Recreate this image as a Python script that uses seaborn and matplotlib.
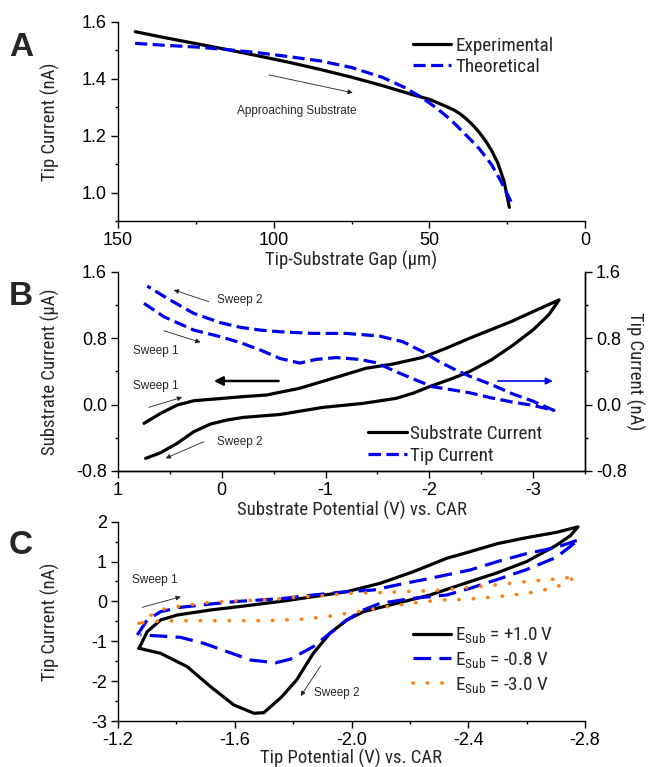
import numpy as np
import pandas as pd
import matplotlib
matplotlib.use('Agg')
import matplotlib.pyplot as plt
import seaborn as sns
from matplotlib import font_manager
from matplotlib.ticker import MultipleLocator, FormatStrFormatter

# ---------------- Panel A data ----------------
gap_exp = [144.5, 135, 125, 115, 105, 95, 85, 75, 65, 55, 50, 45, 42, 40, 38, 36, 34, 32, 30, 28, 26, 24.3]
cur_exp = [1.566, 1.545, 1.524, 1.503, 1.481, 1.458, 1.433, 1.406, 1.376, 1.343, 1.328, 1.305,
           1.290, 1.276, 1.258, 1.237, 1.212, 1.183, 1.148, 1.104, 1.040, 0.948]
gap_theo = [144.5, 135, 125, 115, 105, 95, 85, 75, 65, 58, 53, 48, 43, 38, 34, 30, 27, 25, 23.5]
cur_theo = [1.525, 1.518, 1.512, 1.503, 1.492, 1.478, 1.463, 1.44, 1.405, 1.37, 1.338, 1.30,
            1.255, 1.20, 1.155, 1.098, 1.04, 0.995, 0.962]

# ---------------- Panel B data ----------------
esub_s = [0.75, 0.589, 0.43, 0.27, 0.019, -0.2, -0.43, -0.75, -1.07, -1.39, -1.65, -1.936, -2.16,
          -2.385, -2.6, -2.8, -3.0, -3.25,
          -3.15, -3.0, -2.8, -2.6, -2.385, -2.224, -2.0, -1.84, -1.68, -1.359, -0.974, -0.558,
          -0.21, -0.05, 0.11, 0.27, 0.43, 0.589, 0.734]
isub = [-0.226, -0.106, -0.006, 0.046, 0.072, 0.095, 0.115, 0.196, 0.316, 0.437, 0.488, 0.568, 0.677,
        0.797, 0.905, 1.005, 1.12, 1.26,
        1.08, 0.90, 0.71, 0.54, 0.396, 0.315, 0.215, 0.135, 0.075, 0.014, -0.034, -0.12,
        -0.154, -0.186, -0.235, -0.327, -0.467, -0.58, -0.648]
esub_t = [0.75, 0.558, 0.27, 0.013, -0.18, -0.372, -0.558, -0.75, -0.91, -1.103, -1.327, -1.487,
          -1.68, -1.872, -2.032, -2.192, -2.385, -2.6, -2.8, -3.0, -3.2,
          -3.0, -2.8, -2.6, -2.385, -2.256, -2.096, -1.936, -1.744, -1.519, -1.199, -0.878,
          -0.558, -0.372, -0.18, 0.013, 0.27, 0.526, 0.718]
itip_b = [1.219, 1.058, 0.897, 0.817, 0.745, 0.657, 0.556, 0.500, 0.544, 0.566, 0.544, 0.504,
          0.396, 0.295, 0.215, 0.183, 0.143, 0.08, 0.03, -0.01, -0.07,
          0.04, 0.13, 0.24, 0.343, 0.416, 0.516, 0.637, 0.757, 0.825, 0.857, 0.857,
          0.877, 0.897, 0.93, 0.986, 1.098, 1.279, 1.427]

# ---------------- Panel C data ----------------
etip_p10 = [-1.272, -1.300, -1.346, -1.403, -1.517, -1.632, -1.769, -1.869, -1.984, -2.098, -2.212,
            -2.326, -2.406, -2.5, -2.6, -2.7, -2.776,
            -2.75, -2.7, -2.6, -2.5, -2.406, -2.269, -2.155, -2.041, -1.984, -1.926, -1.869,
            -1.812, -1.76, -1.70, -1.666, -1.597, -1.517, -1.437, -1.346, -1.272]
itip_p10 = [-1.176, -0.759, -0.466, -0.341, -0.215, -0.115, 0.011, 0.119, 0.245, 0.454, 0.746,
            1.081, 1.248, 1.45, 1.60, 1.73, 1.87,
            1.65, 1.40, 1.0, 0.72, 0.496, 0.161, -0.048, -0.257, -0.466, -0.801, -1.302,
            -1.971, -2.40, -2.79, -2.807, -2.598, -2.138, -1.637, -1.302, -1.176]
etip_m08 = [-1.266, -1.300, -1.346, -1.414, -1.517, -1.609, -1.689, -1.769, -1.869, -1.984, -2.075,
            -2.155, -2.269, -2.406, -2.5, -2.6, -2.7, -2.78,
            -2.7, -2.6, -2.5, -2.406, -2.326, -2.212, -2.098, -2.041, -1.984, -1.926, -1.869,
            -1.79, -1.74, -1.654, -1.574, -1.494, -1.414, -1.346, -1.277]
itip_m08 = [-0.843, -0.466, -0.257, -0.148, -0.065, 0.0, 0.036, 0.077, 0.161, 0.245, 0.286,
            0.412, 0.579, 0.788, 1.0, 1.2, 1.35, 1.55,
            1.1, 0.8, 0.55, 0.328, 0.161, 0.077, -0.048, -0.215, -0.466, -0.80, -1.135,
            -1.45, -1.54, -1.47, -1.26, -1.052, -0.901, -0.868, -0.843]
etip_m30 = [-1.272, -1.318, -1.364, -1.414, -1.506, -1.597, -1.689, -1.746, -1.795, -1.892, -1.989,
            -2.086, -2.178, -2.275, -2.372, -2.5, -2.6, -2.7, -2.77,
            -2.7, -2.6, -2.5, -2.395, -2.304, -2.201, -2.109, -2.018, -1.915, -1.823, -1.7,
            -1.55, -1.45, -1.35, -1.30, -1.272]
itip_m30 = [-0.55, -0.324, -0.173, -0.115, -0.031, 0.011, 0.036, 0.061, 0.102, 0.136, 0.203,
            0.22, 0.245, 0.27, 0.328, 0.42, 0.5, 0.56, 0.62,
            0.35, 0.2, 0.12, 0.052, 0.036, -0.048, -0.148, -0.257, -0.383, -0.45, -0.483,
            -0.483, -0.483, -0.49, -0.52, -0.55]

legend_a = ['Experimental', 'Theoretical']
legend_b = ['Substrate Current', 'Tip Current']
legend_c = [r'E$_{\mathrm{Sub}}$ = +1.0 V', r'E$_{\mathrm{Sub}}$ = -0.8 V', r'E$_{\mathrm{Sub}}$ = -3.0 V']

# ---------------- style ----------------
sns.set_style('ticks')
names = {f.name for f in font_manager.fontManager.ttflist}
REG = 'Liberation Sans' if 'Liberation Sans' in names else 'DejaVu Sans'
NAR = REG
for cand in ['Liberation Sans Narrow', 'Arial Narrow', 'Roboto Condensed', 'Open Sans Condensed',
             'DejaVu Sans Condensed', 'Noto Sans Condensed']:
    if cand in names:
        NAR = cand
        break
narrow_found = NAR != REG
plt.rcParams['font.family'] = [REG, 'DejaVu Sans']
plt.rcParams['axes.unicode_minus'] = False
plt.rcParams['mathtext.fontset'] = 'custom'
plt.rcParams['mathtext.rm'] = NAR
plt.rcParams['mathtext.it'] = NAR
plt.rcParams['mathtext.bf'] = NAR

BLUE = '#0000F0'
ORANGE = '#FF8010'
LW = 2.3
LABEL_FS = 13.5 if narrow_found else 12
TICK_FS = 13
LEG_FS = 13.8 if narrow_found else 12.5
SMALL_FS = 8.5

fig = plt.figure(figsize=(6.5, 7.67), dpi=100)
L, W = 118 / 650, 467 / 650
axA = fig.add_axes([L, 1 - 221 / 767, W, 199 / 767])
axB = fig.add_axes([L, 1 - 471 / 767, W, 199.3 / 767])
axC = fig.add_axes([L, 1 - 721 / 767, W, 199.3 / 767])


def style_ax(ax, right=False):
    ax.set_facecolor('none')
    ax.spines['top'].set_visible(False)
    ax.spines['right'].set_visible(right)
    for s in ax.spines.values():
        s.set_linewidth(1.0)
        s.set_color('black')
    ax.tick_params(which='major', direction='out', length=5, width=1.0, labelsize=TICK_FS,
                   colors='black', pad=3)
    ax.tick_params(which='minor', direction='out', length=2.5, width=1.0, colors='black')
    ax.grid(False)


def draw(ax, x, y, **kw):
    df = pd.DataFrame({'x': x, 'y': y})
    sns.lineplot(data=df, x='x', y='y', sort=False, estimator=None, ax=ax, legend=False, **kw)
    return ax.lines[-1]


def small_arrow(ax, start, end):
    ax.annotate('', xy=end, xytext=start,
                arrowprops=dict(arrowstyle='-|>', lw=0.6, color='#222222', mutation_scale=7,
                                shrinkA=0, shrinkB=0))


LEG_KW = dict(frameon=False, borderpad=0, borderaxespad=0, handlelength=2.0, handletextpad=0.2,
              prop={'family': NAR, 'size': LEG_FS})

# ---------------- Panel A ----------------
style_ax(axA)
la1 = draw(axA, gap_exp, cur_exp, color='black', lw=LW)
la2 = draw(axA, gap_theo, cur_theo, color=BLUE, lw=LW)
la2.set_dashes((3.8, 1.7))
axA.set_xlim(150, 0)
axA.set_ylim(0.9, 1.6)
axA.xaxis.set_major_locator(MultipleLocator(50))
axA.xaxis.set_minor_locator(MultipleLocator(25))
axA.yaxis.set_major_locator(MultipleLocator(0.2))
axA.yaxis.set_minor_locator(MultipleLocator(0.1))
axA.yaxis.set_major_formatter(FormatStrFormatter('%.1f'))
axA.set_xlabel('Tip-Substrate Gap (µm)', fontsize=LABEL_FS, family=NAR)
axA.set_ylabel('Tip Current (nA)', fontsize=LABEL_FS, family=NAR)
small_arrow(axA, (101.5, 1.414), (74.6, 1.351))
axA.text(92.6, 1.288, 'Approaching Substrate', fontsize=SMALL_FS, ha='center', va='center')
axA.legend([la1, la2], legend_a, loc='upper left', bbox_to_anchor=(0.632, 0.925),
           labelspacing=0.15, **LEG_KW)

# ---------------- Panel B ----------------
style_ax(axB, right=True)
axB2 = axB.twinx()
style_ax(axB2, right=True)
axB2.spines['left'].set_visible(False)
lb1 = draw(axB, esub_s, isub, color='black', lw=LW)
lb2 = draw(axB2, esub_t, itip_b, color=BLUE, lw=LW)
lb2.set_dashes((3.9, 1.7))
for ax in (axB, axB2):
    ax.set_ylim(-0.8, 1.6)
    ax.yaxis.set_major_locator(MultipleLocator(0.8))
    ax.yaxis.set_minor_locator(MultipleLocator(0.4))
    ax.yaxis.set_major_formatter(FormatStrFormatter('%.1f'))
axB.set_xlim(1, -3.5)
axB.xaxis.set_major_locator(MultipleLocator(1))
axB.xaxis.set_minor_locator(MultipleLocator(0.5))
axB.xaxis.set_major_formatter(FormatStrFormatter('%d'))
axB.set_xlabel('Substrate Potential (V) vs. CAR', fontsize=LABEL_FS, family=NAR)
axB.set_ylabel('Substrate Current (µA)', fontsize=LABEL_FS, family=NAR)
axB2.set_ylabel('Tip Current (nA)', fontsize=LABEL_FS, family=NAR, rotation=270, labelpad=16)
axB2.set_xlabel('')

axB.annotate('', xy=(0.077, 0.284), xytext=(-0.548, 0.284),
             arrowprops=dict(arrowstyle='-|>', lw=1.8, color='black', mutation_scale=13,
                             shrinkA=0, shrinkB=0))
axB2.annotate('', xy=(-3.19, 0.284), xytext=(-2.66, 0.284),
              arrowprops=dict(arrowstyle='-|>', lw=1.2, color=BLUE, mutation_scale=10,
                              shrinkA=0, shrinkB=0))
small_arrow(axB, (0.125, 1.239), (0.462, 1.380))
axB.text(-0.173, 1.259, 'Sweep 2', fontsize=SMALL_FS, ha='center', va='center')
small_arrow(axB, (0.558, 0.889), (0.205, 0.75))
axB.text(0.639, 0.645, 'Sweep 1', fontsize=SMALL_FS, ha='center', va='center')
axB.text(0.639, 0.227, 'Sweep 1', fontsize=SMALL_FS, ha='center', va='center')
small_arrow(axB, (0.702, -0.033), (0.382, 0.088))
axB.text(-0.173, -0.447, 'Sweep 2', fontsize=SMALL_FS, ha='center', va='center')
small_arrow(axB, (0.173, -0.447), (0.541, -0.647))
axB2.legend([lb1, lb2], legend_b, loc='upper left', bbox_to_anchor=(0.536, 0.23),
            labelspacing=0.2, **LEG_KW)

# ---------------- Panel C ----------------
style_ax(axC)
lc1 = draw(axC, etip_p10, itip_p10, color='black', lw=LW)
lc2 = draw(axC, etip_m08, itip_m08, color=BLUE, lw=LW)
lc2.set_dashes((5.5, 2.6))
lc3 = draw(axC, etip_m30, itip_m30, color=ORANGE, lw=2.6)
lc3.set_dashes((0.1, 3.9))
lc3.set_dash_capstyle('round')
axC.set_xlim(-1.2, -2.8)
axC.set_ylim(-3, 2)
axC.xaxis.set_major_locator(MultipleLocator(0.4))
axC.xaxis.set_minor_locator(MultipleLocator(0.2))
axC.xaxis.set_major_formatter(FormatStrFormatter('%.1f'))
axC.yaxis.set_major_locator(MultipleLocator(1))
axC.yaxis.set_minor_locator(MultipleLocator(0.5))
axC.yaxis.set_major_formatter(FormatStrFormatter('%d'))
axC.set_xlabel('Tip Potential (V) vs. CAR', fontsize=LABEL_FS, family=NAR)
axC.set_ylabel('Tip Current (nA)', fontsize=LABEL_FS, family=NAR)
axC.text(-1.327, 0.537, 'Sweep 1', fontsize=SMALL_FS, ha='center', va='center')
small_arrow(axC, (-1.283, -0.148), (-1.415, 0.118))
axC.text(-1.950, -2.29, 'Sweep 2', fontsize=SMALL_FS, ha='center', va='center')
small_arrow(axC, (-1.894, -1.62), (-1.826, -2.373))
axC.legend([lc1, lc2, lc3], legend_c, loc='upper left', bbox_to_anchor=(0.632, 0.48),
           labelspacing=0.25, **LEG_KW)

# label positions
for ax in (axA, axB, axC):
    ax.yaxis.set_label_coords(-0.125, 0.5)
axA.xaxis.set_label_coords(0.5, -0.15)
axB.xaxis.set_label_coords(0.5, -0.15)
axC.xaxis.set_label_coords(0.5, -0.14)
axB2.yaxis.set_label_coords(1.126, 0.5)

for txt, yy in (('A', 47), ('B', 296), ('C', 546)):
    fig.text(9 / 650, 1 - yy / 767, txt, fontsize=24, fontweight='bold', ha='left', va='center',
             family=REG)

fig.savefig('out.png', dpi=100)
